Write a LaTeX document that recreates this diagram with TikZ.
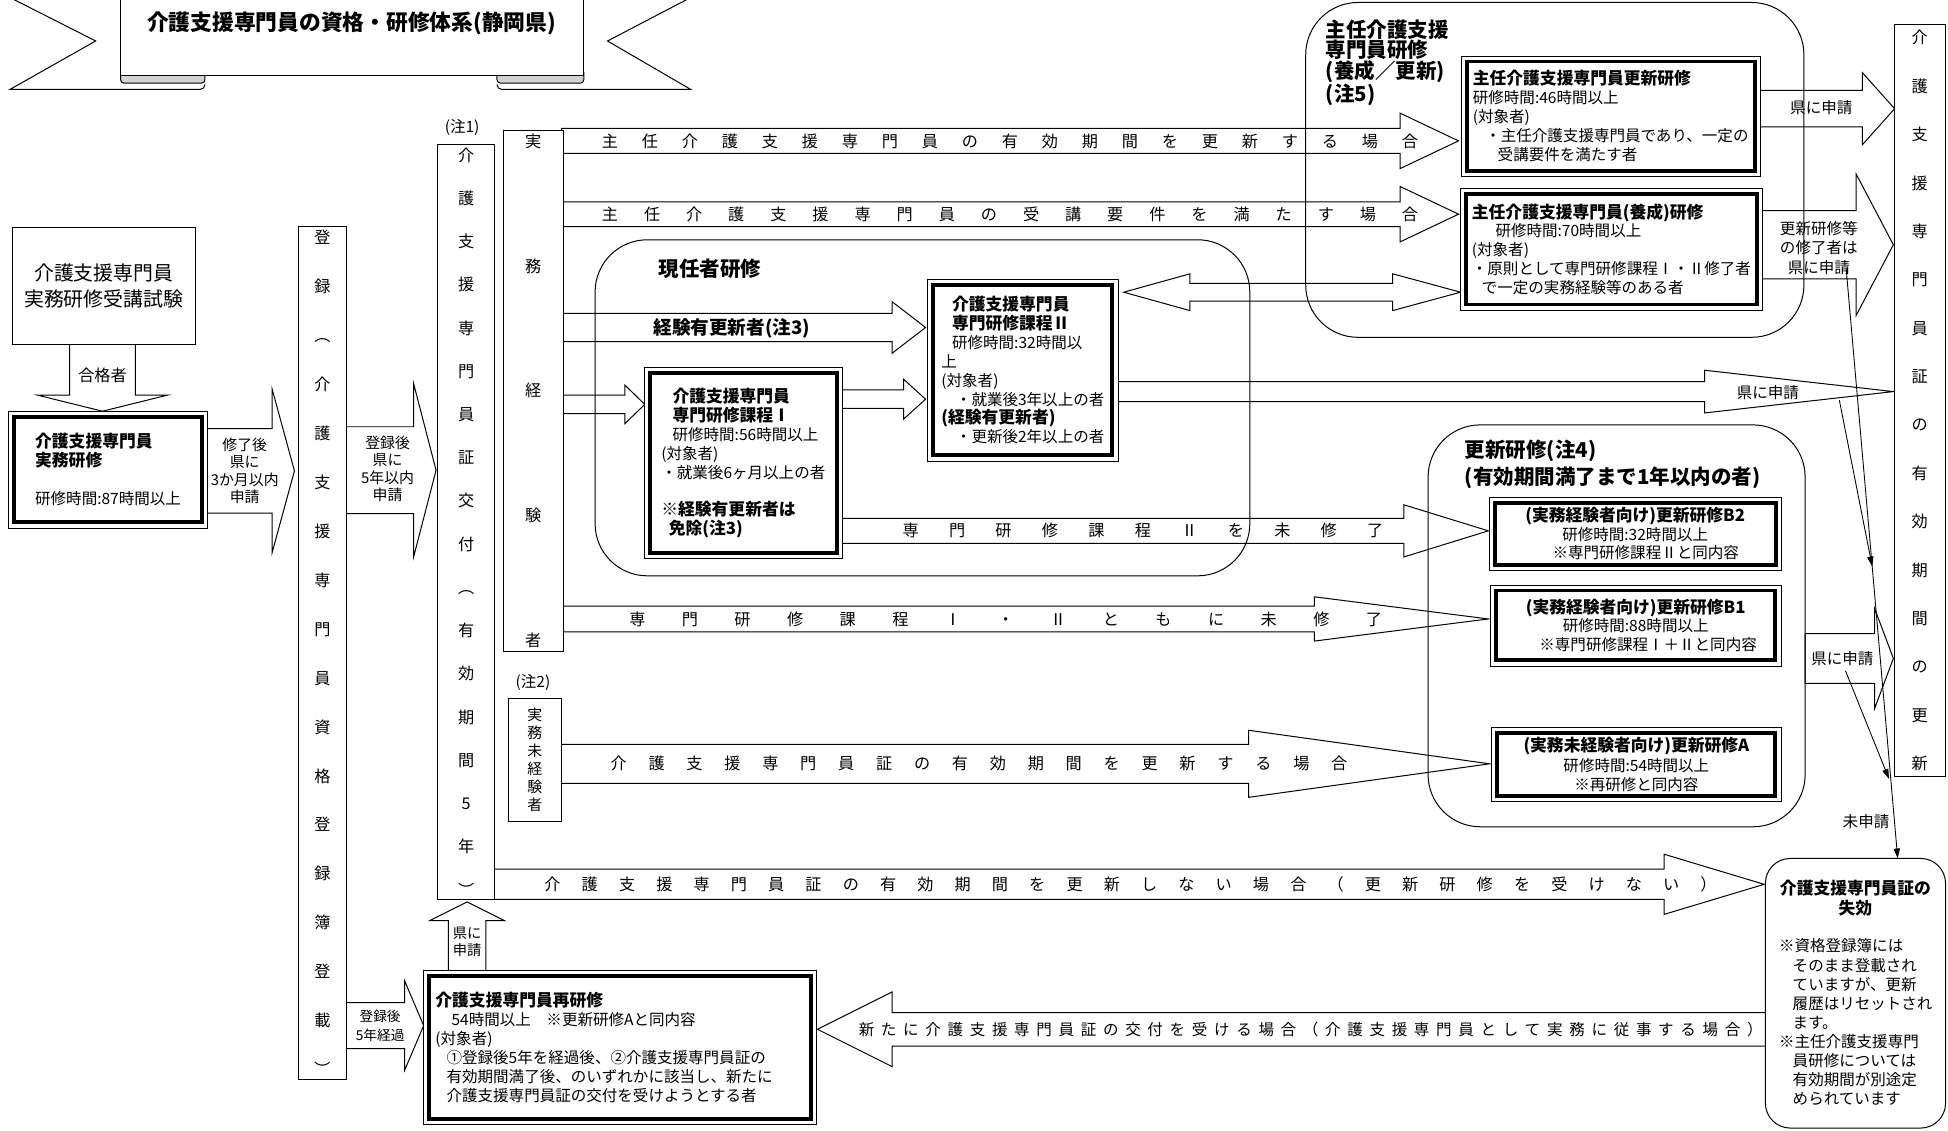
\documentclass[tikz,border=0pt]{standalone}
\usepackage{fontspec}
\setmainfont{Noto Sans CJK JP}
\usetikzlibrary{arrows.meta,backgrounds}

% block arrows: start, head base, tip, centre, half shaft, half head
\newcommand{\rarr}[6]{\draw[blk] (#1,#4-#5) -- (#2,#4-#5) -- (#2,#4-#6) -- (#3,#4) -- (#2,#4+#6) -- (#2,#4+#5) -- (#1,#4+#5) -- cycle;}
\newcommand{\uarr}[6]{\draw[blk] (#4-#5,#1) -- (#4-#5,#2) -- (#4-#6,#2) -- (#4,#3) -- (#4+#6,#2) -- (#4+#5,#2) -- (#4+#5,#1) -- cycle;}
\newcommand{\spaced}[2]{\makebox[#1][s]{#2}}
\newcommand{\hd}{\fontsize{13.5}{15.2}\selectfont\bfseries}

\tikzset{
  blk/.style={draw, fill=white, line width=0.8pt},
  conn/.style={-{Triangle[length=8pt,width=5pt]}, line width=0.7pt},
  pbox/.style={draw, fill=white, line width=0.8pt, anchor=north west, inner sep=0pt, outer sep=0pt, align=center},
  vbox/.style={pbox, font=\fontsize{13}{#1}\selectfont},
  dbox/.style={draw, fill=white, line width=3.2pt, anchor=north west, inner sep=0pt, outer sep=0pt, align=left, font=\fontsize{12.5}{15.2}\selectfont},
  rbox/.style={draw, line width=0.8pt, rounded corners=#1},
  body/.style={inner sep=0pt, align=center, font=\fontsize{12.5}{14}\selectfont},
  wide/.style={inner sep=0pt, font=\fontsize{13}{15}\selectfont},
  big/.style={inner sep=0pt, align=left, font=\fontsize{16.5}{#1}\selectfont\bfseries},
}

\begin{document}
\begin{tikzpicture}[x=1pt, y=-1pt]
\useasboundingbox (0,0) rectangle (1568,910);

% title ribbon
\draw[blk] (8,-2) -- (77,33) -- (8,72) -- (161,72) to[out=0,in=-90] (165,68);
\draw[blk] (556,-2) -- (489,33) -- (556,72) -- (404,72) to[out=180,in=-90] (400,68);
\draw[blk, fill=gray!35, rounded corners=3pt] (97,58) -- (97,67) -- (165,67) -- (165,58);
\draw[blk, fill=gray!35, rounded corners=3pt] (470,58) -- (470,67) -- (400,67) -- (400,58);
\draw[blk] (97,-2) rectangle (470,61);
\node[inner sep=0pt, font=\fontsize{17.5}{20}\selectfont\bfseries] (title) at (283,19) {介護支援専門員の資格・研修体系(静岡県)};

% boxes
\node[pbox, minimum width=147pt, minimum height=94pt, font=\fontsize{16}{21}\selectfont] (shiken) at (10,183) {介護支援専門員\\実務研修受講試験};

\node[dbox, minimum width=151pt, minimum height=85pt] (jitsumu) at (11.5,335.5)
  {{\hd 介護支援専門員}\\{\hd 実務研修}\\[15pt]研修時間:87時間以上};

\node[vbox=39.4, minimum width=39pt, minimum height=687pt] (toroku) at (240,182)
  {登\\録\\︵\\介\\護\\支\\援\\専\\門\\員\\資\\格\\登\\録\\簿\\登\\載\\︶};
\node[vbox=34.8, minimum width=45.5pt, minimum height=608pt] (shokofu) at (352.5,116)
  {介\\護\\支\\援\\専\\門\\員\\証\\交\\付\\︵\\有\\効\\期\\間\\5\\年\\︶};
\node[vbox=100.5, minimum width=48.5pt, minimum height=419pt] (keiken) at (405,105)
  {実\\務\\経\\験\\者};
\node[pbox, minimum width=42.8pt, minimum height=99pt, font=\fontsize{12}{14.5}\selectfont] (mikeiken) at (409,562)
  {実\\務\\未\\経\\験\\者};
\node[vbox=38.95, minimum width=41pt, minimum height=605pt] (koshin) at (1524.6,20)
  {介\\護\\支\\援\\専\\門\\員\\証\\の\\有\\効\\期\\間\\の\\更\\新};

\node[body] (n1) at (372,103) {(注1)};
\node[body] (n2) at (429,549) {(注2)};

\node[dbox, minimum width=150.3pt, minimum height=144.4pt] (katei1) at (523.2,300.5)
  {{\hspace*{9pt}\hd 介護支援専門員}\\
   {\hspace*{9pt}\hd 専門研修課程Ⅰ}\\
   \hspace*{9pt}研修時間:56時間以上\\
   (対象者)\\
   ・就業後6ヶ月以上の者\\[15pt]
   {\hd ※経験有更新者は}\\
   {\hspace*{6pt}\hd 免除(注3)}};

\node[dbox, minimum width=144.1pt, minimum height=137.2pt] (katei2) at (751.3,229.4)
  {{\hspace*{8.6pt}\hd 介護支援専門員}\\
   {\hspace*{8.6pt}\hd 専門研修課程Ⅱ}\\
   \hspace*{8.6pt}研修時間:32時間以\\
   上\\
   (対象者)\\
   \hspace*{11.7pt}・就業後3年以上の者\\
   {\hd (経験有更新者)}\\
   \hspace*{11.7pt}・更新後2年以上の者};

\node[dbox, minimum width=232pt, minimum height=88pt] (skoshin) at (1180.5,49.5)
  {{\hd 主任介護支援専門員更新研修}\\
   研修時間:46時間以上\\
   (対象者)\\
   \hspace*{10pt}・主任介護支援専門員であり、一定の\\
   \hspace*{20pt}受講要件を満たす者};

\node[dbox, minimum width=234pt, minimum height=89pt] (syosei) at (1180.1,156.1)
  {{\hd 主任介護支援専門員(養成)研修}\\
   \hspace*{19pt}研修時間:70時間以上\\
   (対象者)\\
   ・原則として専門研修課程Ⅰ・Ⅱ修了者\\
   \hspace*{8pt}で一定の実務経験等のある者};

\node[dbox, align=center, minimum width=226pt, minimum height=50pt, font=\fontsize{12.5}{14.75}\selectfont] (kB2) at (1203.2,404.5)
  {{\hd (実務経験者向け)更新研修B2}\\研修時間:32時間以上\\\hspace*{17pt}※専門研修課程Ⅱと同内容};
\node[dbox, align=center, minimum width=225pt, minimum height=56.2pt, font=\fontsize{12.5}{14.9}\selectfont] (kB1) at (1204.1,475.3)
  {{\hd (実務経験者向け)更新研修B1}\\研修時間:88時間以上\\\hspace*{20pt}※専門研修課程Ⅰ＋Ⅱと同内容};
\node[dbox, align=center, minimum width=223.9pt, minimum height=50.8pt, font=\fontsize{12.5}{15.4}\selectfont] (kA) at (1205.2,590)
  {{\hd (実務未経験者向け)更新研修A}\\研修時間:54時間以上\\※再研修と同内容};

\node[dbox, minimum width=307pt, minimum height=115pt, text width=297pt, inner xsep=5pt, font=\fontsize{12.5}{15.4}\selectfont] (saiken) at (345.5,785.5)
  {{\hd 介護支援専門員再研修}\\
   \hspace*{13pt}54時間以上\quad ※更新研修Aと同内容\\
   (対象者)\\
   \hspace*{9pt}①登録後5年を経過後、②介護支援専門員証の\\
   \hspace*{9pt}有効期間満了後、のいずれかに該当し、新たに\\
   \hspace*{9pt}介護支援専門員証の交付を受けようとする者};

\node[pbox, rounded corners=20pt, minimum width=145pt, minimum height=217pt, text width=123pt, inner xsep=11pt, align=left, font=\fontsize{12.5}{15.4}\selectfont] (shikko) at (1421,691)
  {\makebox[\linewidth]{\hd 介護支援専門員証の}\\
   \makebox[\linewidth]{\hd 失効}\\[15pt]
   ※資格登録簿には\\
   \hspace*{11pt}そのまま登載され\\
   \hspace*{11pt}ていますが、更新\\
   \hspace*{11pt}履歴はリセットされ\\
   \hspace*{11pt}ます。\\
   ※主任介護支援専門\\
   \hspace*{11pt}員研修については\\
   \hspace*{11pt}有効期間が別途定\\
   \hspace*{11pt}められています};

% block arrows and the thin frames of the double boxes
\begin{scope}[on background layer]
\uarr{276}{318}{331}{82.5}{26.5}{52.5}
\rarr{165}{219}{237}{379}{34}{66}
\rarr{277}{333}{351}{378.5}{35}{69.5}
\rarr{452}{1127}{1174}{113.4}{10}{22.3}
\rarr{452}{1127}{1174}{172.4}{10}{22.3}
\rarr{452}{718}{745}{263.6}{11.4}{20.8}
\rarr{452}{503}{519}{325.5}{7.5}{15.5}
\rarr{676}{727.4}{745}{321.3}{7.4}{16}
\draw[blk] (904.5,235.2) -- (957.8,220.4) -- (957.8,228.1) -- (1121,228.1) -- (1121,220.4) -- (1175.6,235.2)
  -- (1121,250) -- (1121,242.3) -- (957.8,242.3) -- (957.8,250) -- cycle;
\rarr{898}{1372}{1524}{315.2}{8.1}{17.2}
\rarr{676}{1130}{1198}{427.3}{10.1}{21}
\rarr{452}{1058}{1198}{498.2}{10.4}{17.8}
\rarr{450}{1005}{1199}{614.8}{15.7}{27}
\rarr{397}{1339.5}{1420}{711.8}{12.2}{24.2}
\rarr{1422}{718}{658}{828.5}{13.5}{30}
\rarr{1416}{1499}{1525}{87.5}{14.7}{29.1}
\rarr{1417}{1494}{1524}{197}{27.5}{57}
\rarr{1453}{1509}{1524}{530}{20}{40}
\uarr{782}{741}{726}{376}{15}{30}
\rarr{278}{325.7}{341}{825.5}{18.5}{36}

\foreach \n in {jitsumu,katei1,katei2,skoshin,syosei,kB2,kB1,kA,saiken}
  \draw[line width=0.6pt, fill=white] ([shift={(-4.5pt,4.5pt)}]\n.north west) rectangle ([shift={(4.5pt,-4.5pt)}]\n.south east);
\end{scope}

% arrow texts
\node[body, font=\fontsize{13}{15}\selectfont] (t_gokaku) at (82.5,302) {合格者};
\node[body, font=\fontsize{12}{14}\selectfont] (t_shuryo) at (197,379) {修了後\\県に\\3か月以内\\申請};
\node[body, font=\fontsize{12}{14}\selectfont] (t_toroku5) at (312,377.5) {登録後\\県に\\5年以内\\申請};
\node[wide] (t_a4) at (813,113.5) {\spaced{657pt}{主 任 介 護 支 援 専 門 員 の 有 効 期 間 を 更 新 す る 場 合}};
\node[wide] (t_a5) at (813,172.4) {\spaced{657pt}{主 任 介 護 支 援 専 門 員 の 受 講 要 件 を 満 た す 場 合}};
\node[inner sep=0pt, font=\fontsize{15}{17}\selectfont\bfseries] (t_a6) at (589,264) {経験有更新者(注3)};
\node[wide] (t_a11) at (920,427.3) {\spaced{387pt}{専 門 研 修 課 程 Ⅱ を 未 修 了}};
\node[wide] (t_a12) at (809.5,498.2) {\spaced{606pt}{専 門 研 修 課 程 Ⅰ ・ Ⅱ と も に 未 修 了}};
\node[wide] (t_a13) at (788,614.8) {\spaced{593pt}{介 護 支 援 専 門 員 証 の 有 効 期 間 を 更 新 す る 場 合}};
\node[wide] (t_a14) at (910,711.8) {\spaced{943.5pt}{介 護 支 援 専 門 員 証 の 有 効 期 間 を 更 新 し な い 場 合 （ 更 新 研 修 を 受 け な い ）}};
\node[body] (t_a15) at (1055,828.5) {\spaced{727.5pt}{新 た に 介 護 支 援 専 門 員 証 の 交 付 を 受 け る 場 合 （ 介 護 支 援 専 門 員 と し て 実 務 に 従 事 す る 場 合 ）}};
\node[body] (t_a10) at (1423,316) {県に申請};
\node[body] (t_a16) at (1466,87) {県に申請};
\node[body, font=\fontsize{12.5}{15.7}\selectfont] (t_a17) at (1464,199.5) {更新研修等\\の修了者は\\県に申請};
\node[body] (t_a18) at (1483,530) {県に申請};
\node[body, font=\fontsize{11.5}{14}\selectfont] (t_a19) at (376,758) {県に\\申請};
\node[body, font=\fontsize{11}{15}\selectfont] (t_a20) at (306,825.5) {登録後\\5年経過};
\node[body] (t_mishinsei) at (1502,661.5) {未申請};

% group outlines
\draw[rbox=42pt] (479,193) rectangle (1006,463.5);
\draw[rbox=42pt] (1051,2) rectangle (1452,271.5);
\draw[rbox=42pt] (1149.5,342) rectangle (1453,665.5);
\node[big=20, anchor=west] (l_genin) at (530,216) {現任者研修};
\node[big=16.5, anchor=west] (l_shunin) at (1067,50.3) {主任介護支援\\専門員研修\\(養成／更新)\\(注5)};
\node[big=22, anchor=west] (l_koshin) at (1179,374) {更新研修(注4)\\(有効期間満了まで1年以内の者)};

% thin connectors on the right
\coordinate (jA) at (1507,456);
\coordinate (jB) at (1520.5,627);
\coordinate (kx) at (1527.5,0);
\draw[conn] (1480.5,322) -- (jA);
\draw[conn] (1485.5,540) -- (jB);
\draw[conn] (1486,216) -- (shikko.north -| kx);

\end{tikzpicture}
\end{document}
